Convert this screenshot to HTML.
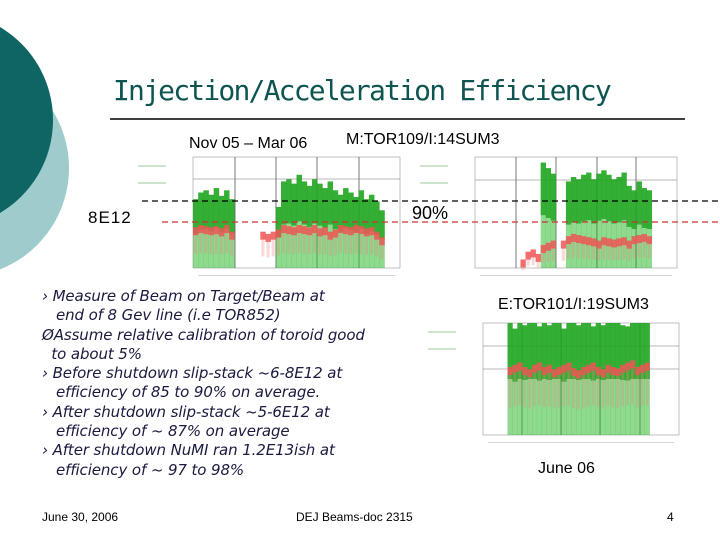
<!DOCTYPE html>
<html><head><meta charset="utf-8"><style>
body{margin:0;width:720px;height:540px;overflow:hidden;background:#fff;position:relative;font-family:"Liberation Sans",sans-serif}
.t{position:absolute;white-space:nowrap}
.body{position:absolute;left:42px;top:287px;font-style:italic;font-size:15px;color:#1a1a40;line-height:19.3px;font-family:"DejaVu Sans","Liberation Sans",sans-serif;letter-spacing:-0.1px}
</style></head><body>
<svg width="720" height="540" style="position:absolute;left:0;top:0">
<circle cx="-40" cy="168" r="109" fill="#9ecbcb"/>
<circle cx="-55" cy="120" r="108" fill="#0e6563"/>
<line x1="110" y1="119" x2="685" y2="119" stroke="#000" stroke-width="1.5"/>
<g id="charts"></g>
<line x1="142" y1="201" x2="720" y2="201" stroke="#000" stroke-dasharray="6,4" stroke-width="1.3"/>
<line x1="162" y1="222" x2="720" y2="222" stroke="#c33" stroke-dasharray="6,4" stroke-width="1.3"/>
</svg>
<div class="t" style="left:113px;top:74px;font-size:28px;color:#0e5552;font-family:'DejaVu Sans Mono','Liberation Mono',monospace;letter-spacing:-1.8px">Injection/Acceleration Efficiency</div>
<div class="t" style="left:189px;top:135px;font-size:16px">Nov 05 – Mar 06</div>
<div class="t" style="left:346px;top:131px;font-size:16px">M:TOR109/I:14SUM3</div>
<div class="t" style="left:88px;top:208px;font-size:17px;letter-spacing:1px">8E12</div>
<div class="t" style="left:412px;top:203px;font-size:18px">90%</div>
<div class="t" style="left:498px;top:296px;font-size:16px">E:TOR101/I:19SUM3</div>
<div class="t" style="left:538px;top:460px;font-size:16px">June 06</div>
<div class="body">
› Measure of Beam on Target/Beam at<br>&nbsp;&nbsp;&nbsp;end of 8 Gev line (i.e TOR852)<br>ØAssume relative calibration of toroid good<br>&nbsp;&nbsp;to about 5%<br>› Before shutdown slip-stack ~6-8E12 at<br>&nbsp;&nbsp;&nbsp;efficiency of 85 to 90% on average.<br>› After shutdown slip-stack ~5-6E12 at<br>&nbsp;&nbsp;&nbsp;efficiency of ~ 87% on average<br>› After shutdown NuMI ran 1.2E13ish at<br>&nbsp;&nbsp;&nbsp;efficiency of ~ 97 to 98%</div>
<div class="t" style="left:42px;top:510px;font-size:12px">June 30, 2006</div>
<div class="t" style="left:296px;top:510px;font-size:12px">DEJ Beams-doc 2315</div>
<div class="t" style="left:667px;top:510px;font-size:12px">4</div>
<script>
// green top value (0-100, 0 = none) and red band value per time bin
const c1Green=[62,68,70,66,72,65,70,62,0,0,0,0,0,0,0,0,55,78,80,76,84,78,74,80,76,72,78,70,66,72,68,64,70,62,66,60,52,0,0,0];
const c1Red=[34,36,35,34,35,33,36,30,0,0,0,0,0,30,28,30,32,36,35,34,36,35,34,36,33,34,30,32,36,35,34,36,35,33,34,30,25,0,0,0];
const c2Green=[0,0,0,0,0,0,0,0,0,0,0,0,0,95,90,85,0,0,78,82,80,84,86,80,85,88,84,80,82,86,74,70,78,72,70,0,0,0,0,0];
const c2Red=[0,0,0,0,0,0,0,0,0,5,12,14,10,18,20,22,0,22,26,28,27,26,25,24,22,25,24,23,24,25,22,26,27,28,26,0,0,0,0,0];
const c3Green=[0,0,0,0,0,100,95,100,98,100,100,97,100,98,100,100,95,100,100,98,100,100,97,100,98,100,100,100,98,97,100,100,100,100,0,0,0,0,0,0];
const c3Red=[0,0,0,0,0,58,60,62,58,56,60,62,58,60,56,58,60,62,57,55,58,60,62,58,56,60,58,57,60,62,64,58,60,62,0,0,0,0,0,0];
const charts=[
 {name:'chart-tor109',x0:193,x1:400,y0:157,y1:268,g:c1Green,r:c1Red,vl:[235,276,317,359],hl:[179]},
 {name:'chart-tor109-continued',x0:475,x1:677,y0:157,y1:268,g:c2Green,r:c2Red,vl:[516,556,597,636],hl:[180]},
 {name:'chart-tor101',x0:483,x1:679,y0:323,y1:435,g:c3Green,r:c3Red,vl:[522,561,600,640],hl:[346,369]}];
const NS='http://www.w3.org/2000/svg';
const root=document.getElementById('charts');
function mk(t,a,p){const e=document.createElementNS(NS,t);for(const k in a)e.setAttribute(k,a[k]);p.appendChild(e);return e;}
charts.forEach(c=>{
 const g=mk('g',{},root);
 
 
 const n=c.g.length, bw=(c.x1-c.x0)/n;
 const xs=i=>c.x0+i*bw, ys=v=>c.y1-v/100*(c.y1-c.y0);
 const ax=mk('rect',{x:c.x0,y:c.y0,width:c.x1-c.x0,height:c.y1-c.y0,fill:'none',stroke:'#999','stroke-width':0.6},g);
 
 
 c.vl.forEach(x=>mk('line',{x1:x,x2:x,y1:c.y0,y2:c.y1,stroke:'#555','stroke-width':0.8},g));
 c.hl.forEach(y=>mk('line',{x1:c.x0,x2:c.x1,y1:y,y2:y,stroke:'#777','stroke-width':0.6},g));
 c.g.forEach((v,i)=>{ if(!v) return;
  const b=mk('rect',{x:xs(i),y:ys(v),width:bw+0.3,height:ys(v*0.5)-ys(v),fill:'#1fa51f',opacity:0.9},g);
  
  
  mk('rect',{x:xs(i),y:ys(v*0.5),width:bw+0.3,height:c.y1-ys(v*0.5),fill:'#3b3',opacity:0.55},g);
 });
 c.r.forEach((v,i)=>{ if(!v) return;
  const b=mk('rect',{x:xs(i),y:ys(v)-3,width:bw+0.3,height:8,fill:'#ee5555',opacity:0.85},g);
  
  
  mk('rect',{x:xs(i)+1,y:ys(v)+5,width:bw-2,height:(c.y1-ys(v))*0.5,fill:'#f08080',opacity:0.3},g);
 });
 mk('rect',{x:c.x0-55,y:c.y0+8,width:28,height:2,fill:'#9c9',opacity:0.5},g);
 mk('rect',{x:c.x0-55,y:c.y0+25,width:28,height:2,fill:'#9c9',opacity:0.5},g);
 mk('rect',{x:c.x0+5,y:c.y1+7,width:c.x1-c.x0-10,height:1,fill:'#bbb',opacity:0.6},g);
});
</script>
</body></html>
